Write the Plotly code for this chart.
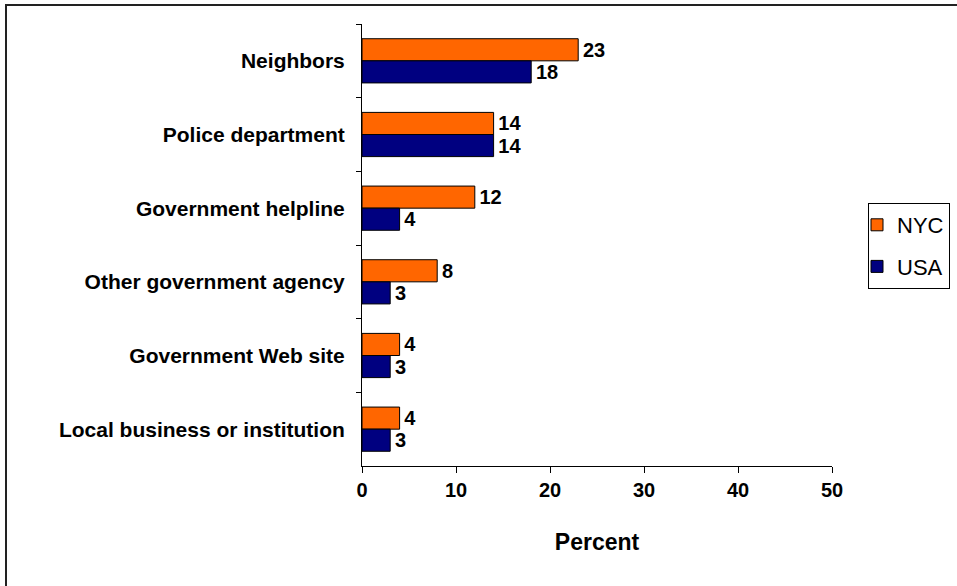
import plotly.graph_objects as go

# Where people turn for help: share of respondents, NYC vs. USA
categories = [
    "Neighbors",
    "Police department",
    "Government helpline",
    "Other government agency",
    "Government Web site",
    "Local business or institution",
]
nyc_values = [23, 14, 12, 8, 4, 4]
usa_values = [18, 14, 4, 3, 3, 3]
x_ticks = [0, 10, 20, 30, 40, 50]

W, H = 957, 586
L, R, T, B = 362, 125, 24, 120
plot_w = W - L - R
plot_h = H - T - B
base_y = H - B  # pixel row of the x-axis line

FAMILY = "Liberation Sans, Arial, sans-serif"
bold = dict(family=FAMILY, size=20, color="black", weight="bold")
cat_font = dict(family=FAMILY, size=21, color="black", weight="bold")

fig = go.Figure()
fig.add_trace(go.Bar(
    name="NYC", y=categories, x=nyc_values, orientation="h",
    marker=dict(color="#FF6600", line=dict(color="black", width=1)),
    text=nyc_values, texttemplate="\u200a%{x}", textposition="outside", textfont=bold,
    cliponaxis=False, legendgroup="nyc",
))
fig.add_trace(go.Bar(
    name="USA", y=categories, x=usa_values, orientation="h",
    marker=dict(color="#000080", line=dict(color="black", width=1)),
    text=usa_values, texttemplate="\u200a%{x}", textposition="outside", textfont=bold,
    cliponaxis=False, legendgroup="usa",
))

fig.update_layout(
    width=W, height=H,
    margin=dict(l=L, r=R, t=T, b=B, autoexpand=False),
    paper_bgcolor="white", plot_bgcolor="white",
    barmode="group", bargap=0.4, bargroupgap=0,
    xaxis=dict(
        range=[0, 50], tickvals=x_ticks, ticks="outside", ticklen=6,
        tickcolor="black", showgrid=False, zeroline=False,
        showline=True, linecolor="black", linewidth=1,
        tickfont=bold,
        title=dict(text="Percent", font=dict(family=FAMILY, size=23, color="black", weight="bold"), standoff=33),
    ),
    yaxis=dict(
        categoryorder="array", categoryarray=categories, autorange="reversed",
        ticks="outside", tickson="boundaries", ticklen=5, tickcolor="black",
        showgrid=False, showline=True, linecolor="black", linewidth=1,
        tickfont=cat_font, ticklabelstandoff=12,
    ),
    legend=dict(
        x=(868 - L) / plot_w, y=(base_y - 203) / plot_h,
        xanchor="left", yanchor="top",
        bordercolor="black", borderwidth=1, bgcolor="white",
        font=dict(family=FAMILY, size=22, color="black"),
        traceorder="grouped", tracegroupgap=10, indentation=-12,
    ),
    showlegend=True,
    shapes=[
        dict(type="rect", xref="paper", yref="paper",
             x0=(6 - L) / plot_w, x1=(W + 20 - L) / plot_w,
             y0=(base_y - (H + 20)) / plot_h, y1=(base_y - 5) / plot_h,
             line=dict(color="#222222", width=2), fillcolor="rgba(0,0,0,0)", layer="below"),
    ],
)

fig.write_html("out.html")
